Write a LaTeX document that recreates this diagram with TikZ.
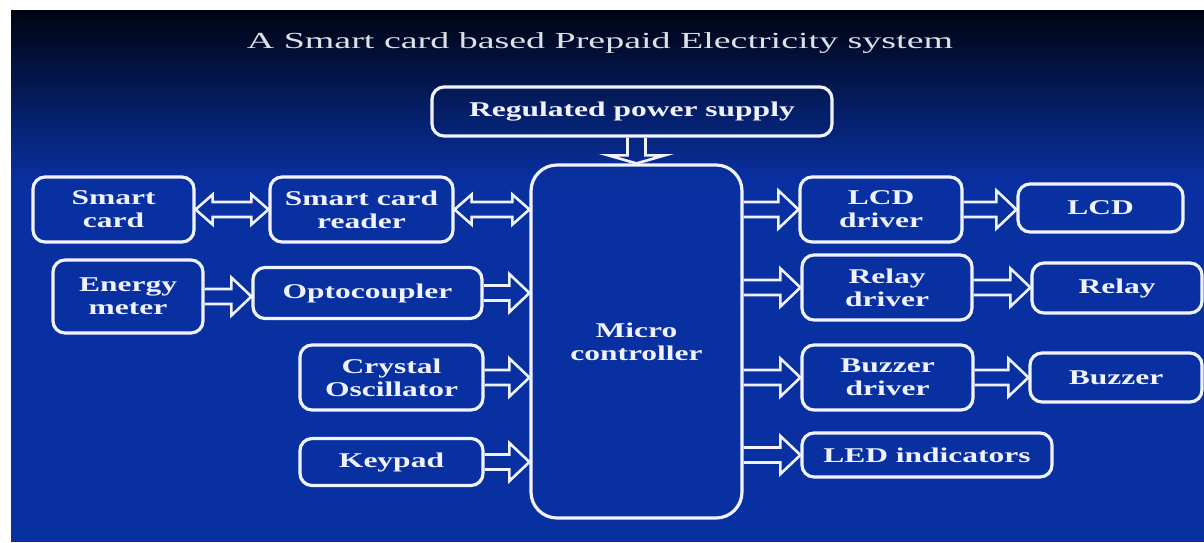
\documentclass[tikz,border=0pt]{standalone}
\usepackage{fontspec}
\usetikzlibrary{calc}
\newfontfamily\bxfont[FakeStretch=1.5]{Liberation Serif}
\newfontfamily\ttlfont[FakeStretch=1.65]{Liberation Serif}
\definecolor{bgtop}{RGB}{0,4,18}
\definecolor{bgmid}{RGB}{2,30,112}
\definecolor{bgblue}{RGB}{8,48,160}
\definecolor{linew}{RGB}{240,243,255}
\definecolor{ttlc}{RGB}{222,224,232}
\tikzset{
  box/.style={draw=linew, line width=3.2pt, rounded corners=12pt, inner sep=0pt,
    align=center, text=linew, font=\bxfont\bfseries\fontsize{21}{23}\selectfont},
  arw/.style={draw=linew, line width=2.6pt, line join=miter}
}
% arrow at the height of the source node
\newcommand\blkarrow[2]{%
  \draw[arw] let \p1=(#1.east), \p2=(#2.west) in
    (\x1,\y1+7.5pt) -- (\x2-20pt,\y1+7.5pt) -- (\x2-20pt,\y1+19pt) -- (\x2,\y1)
    -- (\x2-20pt,\y1-19pt) -- (\x2-20pt,\y1-7.5pt) -- (\x1,\y1-7.5pt);}
% arrow at the height of the target node
\newcommand\outarrow[2]{%
  \draw[arw] let \p1=(#1.east), \p2=(#2.west) in
    (\x1,\y2+7.5pt) -- (\x2-20pt,\y2+7.5pt) -- (\x2-20pt,\y2+19pt) -- (\x2,\y2)
    -- (\x2-20pt,\y2-19pt) -- (\x2-20pt,\y2-7.5pt) -- (\x1,\y2-7.5pt);}
\newcommand\dblarrow[2]{%
  \draw[arw] let \p1=(#1.east), \p2=(#2.west) in
    (\x1,\y1) -- (\x1+17pt,\y1+15pt) -- (\x1+17pt,\y1+7.5pt) -- (\x2-17pt,\y1+7.5pt)
    -- (\x2-17pt,\y1+15pt) -- (\x2,\y1) -- (\x2-17pt,\y1-15pt) -- (\x2-17pt,\y1-7.5pt)
    -- (\x1+17pt,\y1-7.5pt) -- (\x1+17pt,\y1-15pt) -- cycle;}
\begin{document}
\begin{tikzpicture}[x=1pt,y=-1pt]
\useasboundingbox (0,0) rectangle (1204,542);
\fill[white] (0,0) rectangle (1204,542);
\shade[top color=bgtop, middle color=bgmid, bottom color=bgblue] (11,10) rectangle (1204,180);
\fill[bgblue] (11,179.5) rectangle (1204,542);

\node[font=\ttlfont\fontsize{23}{26}\selectfont, text=ttlc, anchor=base] (title) at (600,48) {A Smart card based Prepaid Electricity system};

\node[box, minimum width=400pt, minimum height=49pt] (psu) at (632,111.5) {Regulated power supply};
\node[box, rounded corners=26pt, minimum width=211pt, minimum height=353pt] (mcu) at (636.5,341.5) {Micro\\controller};

\node[box, minimum width=161pt, minimum height=65pt] (sc) at (113.5,209.5) {Smart\\card};
\node[box, minimum width=183pt, minimum height=65pt] (scr) at (361.5,209.5) {Smart card\\reader};
\node[box, minimum width=150pt, minimum height=73pt] (em) at (128,296.5) {Energy\\meter};
\node[box, minimum width=229pt, minimum height=51pt] (opto) at (367.5,293) {Optocoupler};
\node[box, minimum width=183pt, minimum height=65pt] (xo) at (391.5,377.5) {Crystal\\Oscillator};
\node[box, minimum width=183pt, minimum height=47pt] (kp) at (391.5,462) {Keypad};

\node[box, minimum width=162pt, minimum height=65pt] (lcdd) at (881,209.5) {LCD\\driver};
\node[box, minimum width=165pt, minimum height=48pt] (lcd) at (1100.5,208) {LCD};
\node[box, minimum width=170pt, minimum height=65pt] (rd) at (887,287.5) {Relay\\driver};
\node[box, minimum width=170pt, minimum height=50pt] (relay) at (1117,288) {Relay};
\node[box, minimum width=171pt, minimum height=65pt] (bd) at (887.5,377.5) {Buzzer\\driver};
\node[box, minimum width=172pt, minimum height=49pt] (buz) at (1116,377.5) {Buzzer};
\node[box, minimum width=250pt, minimum height=44pt] (led) at (927,455) {LED indicators};

\draw[arw] let \p1=(psu.south), \p2=(mcu.north) in
  (\x2-9pt,\y1) -- (\x2-9pt,\y2+8pt) -- (\x2-28pt,\y2+8pt) -- (\x2,\y2)
  -- (\x2+28pt,\y2+8pt) -- (\x2+9pt,\y2+8pt) -- (\x2+9pt,\y1);

\dblarrow{sc}{scr}
\dblarrow{scr}{mcu}
\blkarrow{em}{opto}
\blkarrow{opto}{mcu}
\blkarrow{xo}{mcu}
\blkarrow{kp}{mcu}
\outarrow{mcu}{lcdd}
\outarrow{mcu}{rd}
\outarrow{mcu}{bd}
\outarrow{mcu}{led}
\blkarrow{lcdd}{lcd}
\blkarrow{rd}{relay}
\blkarrow{bd}{buz}
\end{tikzpicture}
\end{document}
